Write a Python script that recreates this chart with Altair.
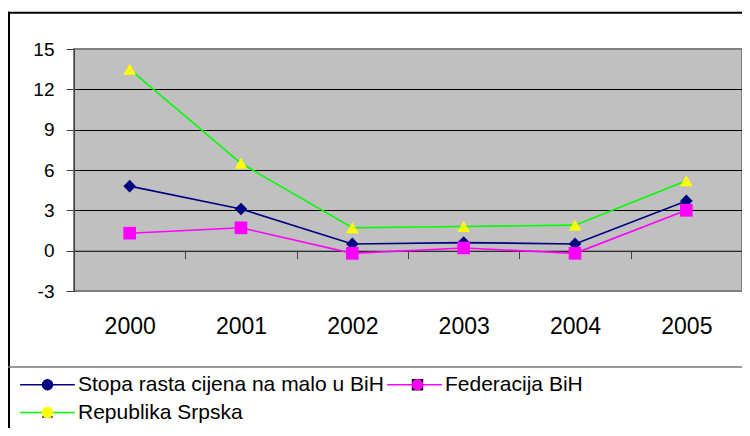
import altair as alt
import pandas as pd

# ---- data ----
years = ["2000", "2001", "2002", "2003", "2004", "2005"]
series_names = ["Stopa rasta cijena na malo u BiH", "Federacija BiH", "Republika Srpska"]
bih = [4.8, 3.1, 0.5, 0.6, 0.5, 3.7]
fbih = [1.3, 1.7, -0.2, 0.2, -0.2, 3.0]
rs = [13.5, 6.5, 1.7, 1.8, 1.9, 5.2]
y_ticks = [-3, 0, 3, 6, 9, 12, 15]

line_colors = ["#000080", "#ff00ff", "#00ff00"]
marker_colors = ["#000080", "#ff00ff", "#ffff00"]
marker_shapes = ["diamond", "square", "triangle-up"]

rows = []
for name, vals in zip(series_names, [bih, fbih, rs]):
    for yr, v in zip(years, vals):
        rows.append({"year": yr, "value": v, "series": name, "series_m": name})
df = pd.DataFrame(rows)

FONT = "Liberation Sans"
PAD_L, PAD_T = 66, 41
TOTAL_W, TOTAL_H = 734, 420
W, H = TOTAL_W - PAD_L, 242

x_enc = alt.X(
    "year:N",
    scale=alt.Scale(type="band", paddingInner=0, paddingOuter=0),
    axis=alt.Axis(
        title=None, orient="bottom", offset=-40.33, tickBand="extent",
        tickSize=8, tickColor="#404040", tickWidth=1,
        domainColor="#404040", domainWidth=1,
        labelFontSize=23, labelPadding=57, labelAngle=0, labelColor="black",
        labelFont=FONT, grid=False,
    ),
)
y_enc = alt.Y(
    "value:Q",
    scale=alt.Scale(domain=[-3, 15], nice=False, zero=False),
    axis=alt.Axis(
        title=None, values=y_ticks, tickSize=8, tickColor="#404040",
        domainColor="#404040", domainWidth=1,
        labelFontSize=19, labelPadding=12, labelColor="black", labelFont=FONT,
        labelExpr="'' + datum.value",
        grid=True, gridWidth=1,
        gridColor={"expr": "(datum.value == 15 || datum.value == -3) ? '#808080' : '#000000'"},
    ),
)

LEG_X = -37
LEG_Y = 325
common_leg = dict(
    orient="none", legendX=LEG_X, legendY=LEG_Y, columns=2, direction="horizontal",
    title=None, padding=0, labelFontSize=21, labelFont=FONT, labelColor="black",
    labelLimit=500, labelOffset=20, rowPadding=6,
    symbolSize=130, symbolStrokeWidth=1.6,
)

lines = alt.Chart(df).mark_line(strokeWidth=1.6).encode(
    x=x_enc,
    y=y_enc,
    color=alt.Color(
        "series:N",
        scale=alt.Scale(domain=series_names, range=line_colors),
        legend=alt.Legend(symbolType="M-4.8,0H4.8", columnPadding=-1, **common_leg),
    ),
)

pt_leg = alt.Legend(labelExpr="''", symbolStrokeColor="transparent", zindex=1,
                    columnPadding=329, **common_leg)
points = alt.Chart(df).mark_point(filled=True, size=160, opacity=1).encode(
    x=x_enc,
    y=y_enc,
    fill=alt.Fill("series_m:N", sort=series_names,
                  scale=alt.Scale(range=marker_colors), legend=pt_leg),
    shape=alt.Shape("series_m:N", sort=series_names,
                    scale=alt.Scale(range=marker_shapes), legend=pt_leg),
)

one = pd.DataFrame({"a": [0]})
frame_top = alt.Chart(one).mark_rule(color="black", strokeWidth=2).encode(
    x=alt.value(-PAD_L), x2=alt.value(TOTAL_W), y=alt.value(-36.25)
)
frame_left = alt.Chart(one).mark_rule(color="black", strokeWidth=2).encode(
    x=alt.value(-PAD_L + 1), y=alt.value(-37.25), y2=alt.value(TOTAL_H)
)
legend_sep = alt.Chart(one).mark_rule(color="#777777", strokeWidth=1.5).encode(
    x=alt.value(-PAD_L), x2=alt.value(TOTAL_W), y=alt.value(318)
)

chart = (
    alt.layer(lines, points, frame_top, frame_left, legend_sep)
    .properties(
        width=W, height=H, autosize="none",
        padding={"left": PAD_L, "top": PAD_T, "right": TOTAL_W - PAD_L - W,
                 "bottom": TOTAL_H - PAD_T - H},
        background="white",
    )
    .configure(font=FONT)
    .configure_view(fill="#c0c0c0", stroke="#808080", strokeWidth=2)
)

chart.save("out.html", embed_options={"renderer": "svg", "actions": False})
